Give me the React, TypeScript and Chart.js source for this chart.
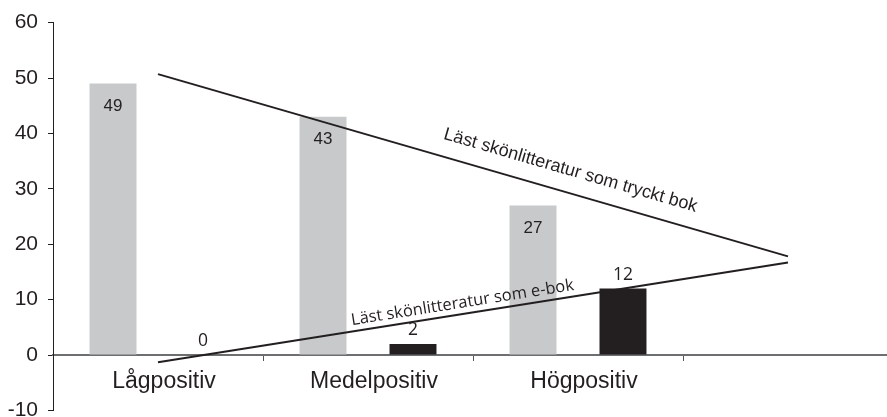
import React, { useEffect, useRef } from "react";
import { Chart, registerables } from "chart.js";

Chart.register(...registerables);

// ---- data ----
const categories = ["Lågpositiv", "Medelpositiv", "Högpositiv", ""];
const printedBook: (number | null)[] = [49, 43, 27, null];
const eBook: (number | null)[] = [0, 2, 12, null];
const yTickRange = [-10, 60];
const yTickStep = 10;
// trend lines drawn across the groups (category index, value)
const printedTrendX = [0, 3];
const printedTrendY = [50.7, 17.8];
const eBookTrendX = [0, 3];
const eBookTrendY = [-1.3, 16.7];
const printedLabel = "Läst skönlitteratur som tryckt bok";
const eBookLabel = "Läst skönlitteratur som e-bok";

const ARIAL = "'Liberation Sans', Arial, sans-serif";
const OPEN = "'Open Sans', 'Noto Sans', sans-serif";
const INK = "#231f20";

const labelPlugin = {
  id: "customLabels",
  afterDatasetsDraw(chart: any) {
    const ctx = chart.ctx as CanvasRenderingContext2D;
    const xs = chart.scales.x;
    const ys = chart.scales.y;
    ctx.save();

    // trend lines
    const trend = (xv: number[], yv: number[]) => {
      const a = { x: xs.getPixelForValue(xv[0]), y: ys.getPixelForValue(yv[0]) };
      const b = {
        x: xs.getPixelForValue(xv[xv.length - 1]),
        y: ys.getPixelForValue(yv[yv.length - 1]),
      };
      ctx.beginPath();
      ctx.moveTo(a.x, a.y);
      for (let i = 1; i < xv.length; i++) {
        ctx.lineTo(xs.getPixelForValue(xv[i]), ys.getPixelForValue(yv[i]));
      }
      ctx.strokeStyle = INK;
      ctx.lineWidth = 2;
      ctx.stroke();
      return { a, b };
    };
    const pLine = trend(printedTrendX, printedTrendY);
    const eLine = trend(eBookTrendX, eBookTrendY);

    ctx.fillStyle = INK;
    ctx.textAlign = "center";
    ctx.textBaseline = "middle";

    ctx.font = `17px ${ARIAL}`;
    chart.getDatasetMeta(0).data.forEach((el: any, i: number) => {
      const v = printedBook[i];
      if (v == null) return;
      ctx.fillText(String(v), el.x, el.y + 22.5);
    });

    ctx.font = `17.5px ${OPEN}`;
    chart.getDatasetMeta(1).data.forEach((el: any, i: number) => {
      const v = eBook[i];
      if (v == null) return;
      ctx.fillText(String(v), el.x, el.y - 13.5);
    });

    const drawAlong = (ln: any, text: string, t: number, d: number, font: string) => {
      const { a, b } = ln;
      const dx = b.x - a.x;
      const dy = b.y - a.y;
      const ang = Math.atan2(dy, dx);
      const px = a.x + dx * t;
      const py = a.y + dy * t;
      const nx = Math.sin(ang);
      const ny = -Math.cos(ang);
      ctx.save();
      ctx.translate(px + nx * d, py + ny * d);
      ctx.rotate(ang);
      ctx.font = font;
      ctx.fillText(text, 0, 0);
      ctx.restore();
    };
    drawAlong(pLine, printedLabel, 0.645, 22, `18px ${ARIAL}`);
    drawAlong(eLine, eBookLabel, 0.486, 11, `16.5px ${OPEN}`);
    ctx.restore();
  },
};

export default function App() {
  const ref = useRef<HTMLCanvasElement | null>(null);

  useEffect(() => {
    if (!ref.current) return;
    const chart = new Chart(ref.current, {
      type: "bar",
      data: {
        labels: categories,
        datasets: [
          {
            label: "Tryckt bok",
            data: printedBook,
            backgroundColor: "#c8c9cb",
            borderWidth: 0,
            categoryPercentage: 0.857,
            barPercentage: 0.522,
          } as any,
          {
            label: "E-bok",
            data: eBook,
            backgroundColor: INK,
            borderWidth: 0,
            categoryPercentage: 0.857,
            barPercentage: 0.522,
          } as any,
        ],
      },
      options: {
        animation: false,
        responsive: false,
        devicePixelRatio: 1,
        layout: { padding: { top: 20, bottom: 20, left: 0, right: 0 } },
        plugins: {
          legend: { display: false },
          tooltip: { enabled: false },
        },
        scales: {
          x: {
            type: "category",
            position: { y: 0 } as any,
            offset: true,
            grid: {
              display: true,
              offset: true,
              drawOnChartArea: false,
              drawTicks: true,
              tickLength: 5,
              color: "#555555",
            },
            border: { display: true, color: "#6d6e70", width: 2 },
            ticks: {
              padding: 8,
              labelOffset: 6,
              color: INK,
              font: { family: ARIAL, size: 23 },
              maxRotation: 0,
              autoSkip: false,
            },
            afterFit: (s: any) => {
              s.height = 0;
            },
          },
          y: {
            type: "linear",
            min: yTickRange[0],
            max: yTickRange[1],
            ticks: {
              stepSize: yTickStep,
              padding: 10,
              color: INK,
              font: { family: ARIAL, size: 21 },
            },
            grid: {
              drawOnChartArea: false,
              drawTicks: true,
              tickLength: 5,
              color: INK,
            },
            border: { display: true, color: INK, width: 1 },
            afterFit: (s: any) => {
              s.width = 53;
            },
          },
        } as any,
      },
      plugins: [labelPlugin],
    });
    return () => chart.destroy();
  }, []);

  return (
    <div
      style={{
        position: "fixed",
        left: 0,
        top: 0,
        width: 887,
        height: 417,
        overflow: "hidden",
        background: "#ffffff",
      }}
    >
      <canvas ref={ref} width={893} height={433} style={{ display: "block" }} />
    </div>
  );
}
